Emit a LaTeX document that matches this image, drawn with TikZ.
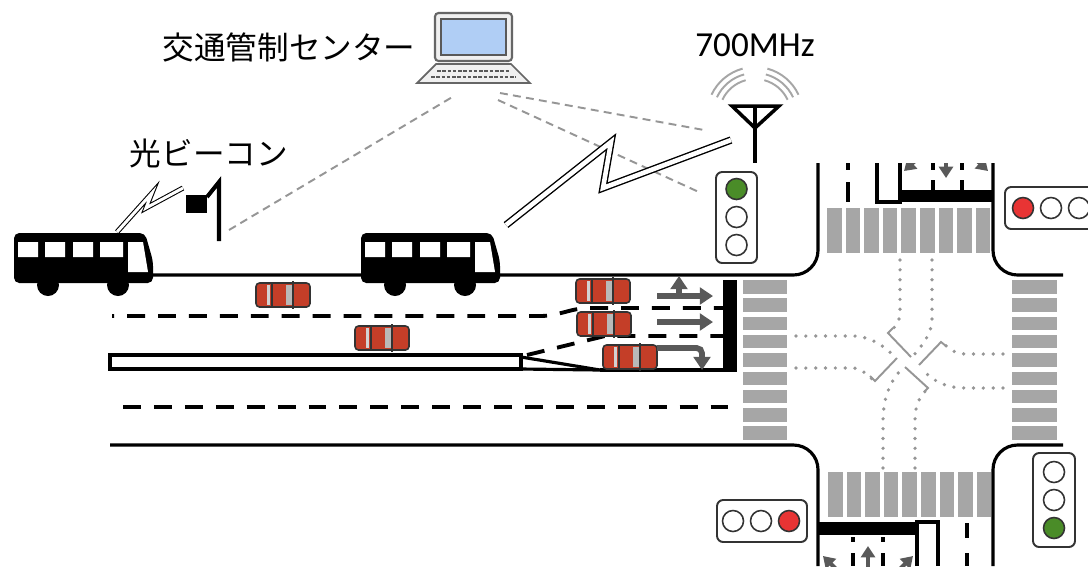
\documentclass[tikz,border=0pt]{standalone}
\usepackage{fontspec}
\setmainfont{Carlito}
\newfontfamily\jpfont{Noto Sans CJK JP}
\usepackage{xcolor}
\definecolor{crossgray}{RGB}{166,166,166}
\definecolor{guidegray}{RGB}{150,150,150}
\definecolor{arrowgray}{RGB}{89,89,89}
\definecolor{linkgray}{RGB}{150,150,150}
\definecolor{carred}{RGB}{196,62,40}
\definecolor{sigred}{RGB}{232,52,52}
\definecolor{siggreen}{RGB}{74,140,40}
\definecolor{screenblue}{RGB}{176,206,245}
\usetikzlibrary{arrows.meta}

\begin{document}
\begin{tikzpicture}[
    x=0.02cm, y=-0.02cm,
    road/.style={line width=1.8pt},
    lanedash/.style={line width=2.2pt, dash pattern=on 10.2pt off 7.4pt},
    tick/.style={line width=2.2pt},
    zebra/.style={fill=crossgray},
    guide/.style={guidegray, line width=2.1pt, line cap=round, dash pattern=on 0pt off 5.6pt},
    waitline/.style={guidegray, line width=1.1pt},
    link/.style={linkgray, line width=1.1pt, dash pattern=on 4.5pt off 3pt},
    bolt/.style={double, line width=0.8pt, double distance=2.6pt},
    lane arrow/.style={arrowgray, line width=3.3pt, -{Triangle[length=7.5pt,width=9.5pt]}},
    turn arrow/.style={arrowgray, line width=2.3pt, -{Triangle[length=6.5pt,width=8pt]}},
    lightbox/.style={draw=black!80, fill=white, line width=1.1pt, rounded corners=3.5pt},
    lamp/.style={draw=black!80, line width=0.9pt},
    wave/.style={gray!70, line width=1.1pt},
    label/.style={inner sep=0pt, font=\jpfont\fontsize{18pt}{20pt}\selectfont},
    car/.pic={
      \filldraw[fill=carred, draw=black!80, line width=0.9pt, rounded corners=2pt] (-27,-12) rectangle (27,12);
      \fill[gray!35] (-16,-10) rectangle (-13,10);
      \draw[black!80, line width=0.6pt] (-11,-12) -- (-11,12);
      \fill[gray!55] (3,-10) rectangle (9,10);
      \draw[black!80, line width=0.8pt] (10,-14) -- (10,14);
    },
    bus/.pic={
      \fill[rounded corners=3pt] (0,50) -- (0,0) -- (131,0) -- (139,28) -- (139,50) -- cycle;
      \fill (34,52) circle[radius=11] (104,52) circle[radius=11];
      \fill[white] (4,9) rectangle (24,24) (31,9) rectangle (51,24)
                   (59,9) rectangle (79,24) (86,9) rectangle (109,24);
      \fill[white] (114,9) -- (129,9) -- (134,39) -- (114,39) -- cycle;
    },
  ]
  \useasboundingbox (0,0) rectangle (1088,566);
  \fill[white] (0,0) rectangle (1088,566);

  % crosswalks
  \foreach \k in {0,...,8} {
    \fill[zebra] (743,280+18.3*\k) rectangle (787,293.5+18.3*\k);
    \fill[zebra] (1012,280+18.3*\k) rectangle (1057,293.5+18.3*\k);
    \fill[zebra] (827+18.6*\k,208) rectangle (841.5+18.6*\k,253);
    \fill[zebra] (828+18.6*\k,472) rectangle (842.5+18.6*\k,517);
  }

  % right-turn guide lines
  \draw[guide] (900,260) -- (900,312) .. controls (900,322) and (895,327) .. (888,334);
  \draw[guide] (932,260) -- (932,318) .. controls (932,334) and (922,346) .. (912,357);
  \draw[guide] (796,336) -- (852,336) .. controls (868,336) and (882,344) .. (893,355);
  \draw[guide] (796,368) -- (852,368) .. controls (860,368) and (866,373) .. (873,380);
  \draw[guide] (883,468) -- (883,420) .. controls (883,396) and (892,378) .. (903,368);
  \draw[guide] (915,468) -- (915,420) .. controls (915,405) and (920,395) .. (928,389);
  \draw[guide] (1003,354) -- (965,354) .. controls (955,354) and (948,348) .. (942,342);
  \draw[guide] (1003,388) -- (965,388) .. controls (945,388) and (932,380) .. (923,370);
  \draw[waitline] (893,328) -- (888,333) -- (911,357);
  \draw[waitline] (897,358) -- (875,381) -- (870,376);
  \draw[waitline] (905,367) -- (928,388) -- (924,392);
  \draw[waitline] (919,365) -- (941,342) -- (946,346);

  % road edges and curbs
  \draw[road, rounded corners=14pt] (140,275) -| (818,163);
  \draw[road, rounded corners=14pt] (1063,275) -| (993,163);
  \draw[road, rounded corners=14pt] (110,445) -| (818,566);
  \draw[road, rounded corners=14pt] (1063,445) -| (993,566);

  % median and lanes of the west approach
  \draw[road, fill=white] (110,355) rectangle (521,369);
  \draw[road] (521,357) -- (600,370) -- (521,369);
  \draw[road] (600,370) -- (737,370);
  \draw[lanedash] (123,407) -- (737,407);
  \draw[lanedash, dash phase=9pt] (112,316) -- (540,316) .. controls (560,316) and (570,308) .. (590,308) -- (723,308);
  \draw[lanedash] (527,355) -- (605,336) -- (723,336);

  % stop lines, islands, lane ticks
  \fill (723,280) rectangle (737,370);
  \fill (900,190) rectangle (993,202);
  \fill (818,522) rectangle (916,535);
  \draw[road] (877,163) |- (900,202) -- (900,163);
  \draw[road] (917,566) |- (938,522) -- (938,566);
  \draw[tick] (848,163) -- (848,170) (848,182) -- (848,202);
  \draw[tick] (933,163) -- (933,170) (933,180) -- (933,190);
  \draw[tick] (962,163) -- (962,170) (962,180) -- (962,190);
  \draw[tick] (853,537) -- (853,542) (853,553) -- (853,566);
  \draw[tick] (883,537) -- (883,542) (883,553) -- (883,566);
  \draw[tick] (967,523) -- (967,538) (967,553) -- (967,566);

  % cars
  \pic at (283,295) {car};
  \pic at (382,338) {car};
  \pic at (603,291) {car};
  \pic at (604,324) {car};
  \pic at (630,357) {car};

  % lane arrows
  \draw[lane arrow] (657,296) -- (713,296);
  \draw[lane arrow] (679,296) -- (679,276);
  \draw[lane arrow] (657,322) -- (713,322);
  \draw[lane arrow, rounded corners=3pt] (657,348) -- (702,348) -- (702,370);
  \begin{scope}
    \clip (895,163) rectangle (995,190);
    \draw[turn arrow] (927,150) -- (904,171);
    \draw[turn arrow] (946,150) -- (946,178);
    \draw[turn arrow] (966,150) -- (988,171);
  \end{scope}
  \begin{scope}
    \clip (818,536) rectangle (916,566);
    \draw[turn arrow] (847,580) -- (823,556);
    \draw[turn arrow] (868,580) -- (868,546);
    \draw[turn arrow] (889,580) -- (913,556);
  \end{scope}

  % buses
  \pic at (14,233) {bus};
  \pic at (361,233) {bus};

  % signals
  \draw[lightbox] (716,172) rectangle (757,263);
  \filldraw[lamp, fill=siggreen] (736.5,189) circle[radius=10.5];
  \draw[lamp] (736.5,217) circle[radius=10.5] (736.5,245) circle[radius=10.5];
  \draw[lightbox] (1005,187) rectangle (1100,229);
  \filldraw[lamp, fill=sigred] (1023,208) circle[radius=10.5];
  \draw[lamp] (1051,208) circle[radius=10.5] (1079,208) circle[radius=10.5];
  \draw[lightbox] (717,500) rectangle (807,542);
  \draw[lamp] (733,521) circle[radius=10.5] (761,521) circle[radius=10.5];
  \filldraw[lamp, fill=sigred] (789,521) circle[radius=10.5];
  \draw[lightbox] (1033,453) rectangle (1075,547);
  \draw[lamp] (1054,472) circle[radius=10.5] (1054,500) circle[radius=10.5];
  \filldraw[lamp, fill=siggreen] (1054,528) circle[radius=10.5];

  % 700MHz antenna
  \draw[line width=2pt] (732,106) -- (779,106) -- (755,128) -- cycle;
  \draw[line width=2pt] (755,106) -- (755,163);
  \foreach \r in {0.72,0.84,0.96} {
    \draw[wave] ([shift={(105:\r cm)}]755,115) arc[start angle=105, end angle=155, radius=\r cm];
    \draw[wave] ([shift={(25:\r cm)}]755,115) arc[start angle=25, end angle=75, radius=\r cm];
  }
  \node[inner sep=0pt, font=\fontsize{20pt}{22pt}\selectfont] (mhz) at (755,45) {700MHz};

  % optical beacon
  \fill (186,195) rectangle (207,213);
  \draw[line width=2.3pt] (219,241) -- (219,182) -- (207,197);
  \node[label] (beaconlabel) at (209,153) {光ビーコン};

  % traffic control center
  \filldraw[draw=gray!80!black, fill=gray!12, line width=1.2pt, rounded corners=2pt] (435,13) rectangle (512,61);
  \filldraw[draw=gray!70!black, fill=screenblue, line width=0.8pt] (441,19) rectangle (506,55);
  \filldraw[draw=gray!80!black, fill=gray!12, line width=1pt] (436,64) -- (511,64) -- (530,83) -- (417,83) -- cycle;
  \draw[gray!70!black, line width=1.2pt, dash pattern=on 2pt off 1pt] (437,71) -- (510,71) (431,77) -- (516,77);
  \node[label] (center) at (289,47) {交通管制センター};

  \coordinate (pc-a) at (454,96);
  \coordinate (pc-b) at (500,93);
  \coordinate (pc-c) at (498,100);
  \coordinate (pole) at (229,230);
  \coordinate (ant-a) at (704,130);
  \coordinate (ant-b) at (701,193);
  \draw[link] (pole) -- (pc-a);
  \draw[link] (pc-b) -- (ant-a);
  \draw[link] (pc-c) -- (ant-b);

  % radio links
  \draw[bolt, line width=0.6pt, double distance=1.7pt] (117,232) -- (152,193) -- (146,208) -- (183,188);
  \draw[bolt] (506,225) -- (611,142) -- (603,188) -- (731,140);
\end{tikzpicture}
\end{document}
